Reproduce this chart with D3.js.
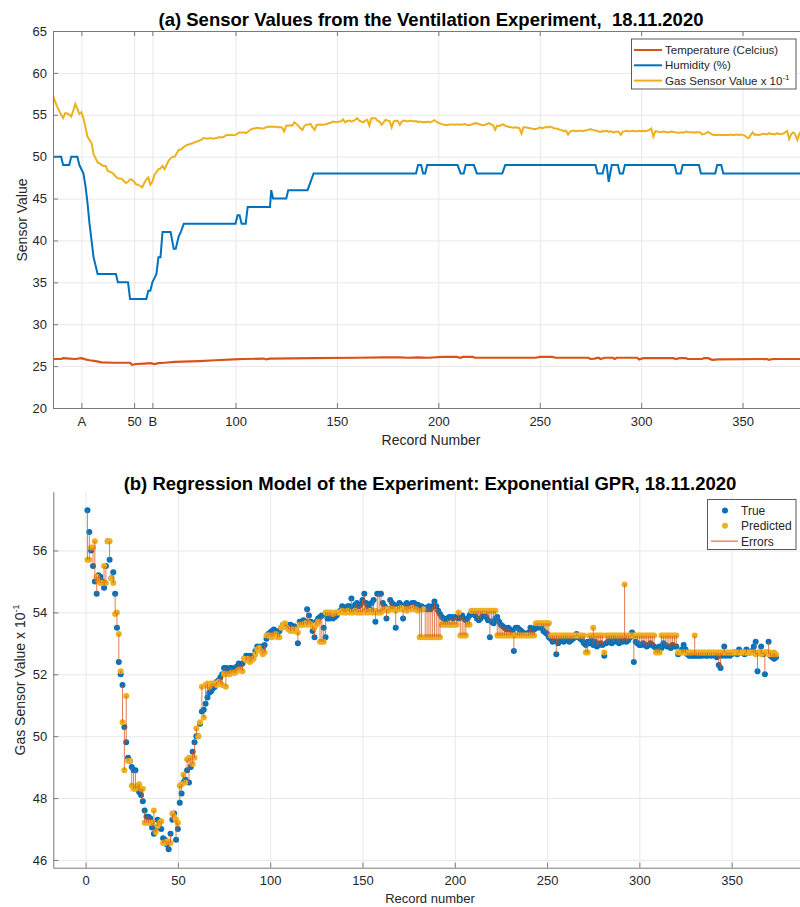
<!DOCTYPE html>
<html>
<head>
<meta charset="utf-8">
<script src="https://cdn.jsdelivr.net/npm/d3@7"></script>
<style>
body { margin: 0; background: #fff; }
svg { display: block; font-family: "Liberation Sans", Arial, sans-serif; }
.axis .tick text { fill: #262626; font-size: 13px; }
.axis path, .axis line { stroke: #7a7a7a; }
.grid line { stroke: #e8e8e8; }
.grid path { display: none; }
</style>
</head>
<body>
<svg width="800" height="907"></svg>
<script>
// gas sensor value x 10^-1, record 1..374 (true measurements)
var gasTrue = [
  57.3, 56.6, 56.0, 55.5, 55.0, 54.6, 55.2, 55.15, 55.0, 54.8,
  55.5, 56.3, 55.7, 55.1, 55.3, 54.6, 53.5, 52.4, 52.0, 51.65,
  50.3, 49.8, 49.3, 49.2, 49.0, 48.9, 48.9, 48.3, 48.2, 48.1,
  47.9, 47.6, 47.4, 47.4, 47.35, 47.05, 46.85, 47.0, 47.3, 47.25,
  47.0, 46.7, 46.65, 46.5, 46.35, 46.85, 47.3, 47.5, 46.65, 47.0,
  47.85, 48.15, 48.5, 48.6, 48.9, 48.5, 49.0, 49.5, 49.8, 50.0,
  50.0, 50.4, 50.8, 50.85, 51.05, 51.25, 51.4, 51.45, 51.55, 51.6,
  51.75, 51.8, 51.9, 52.0, 52.2, 52.2, 52.15, 52.2, 52.2, 52.15,
  52.2, 52.25, 52.35, 52.3, 52.35, 52.5, 52.6, 52.55, 52.6, 52.55,
  52.6, 52.75, 52.9, 52.85, 52.9, 52.8, 52.95, 53.15, 53.3, 53.35,
  53.4, 53.45, 53.4, 53.35, 53.4, 53.5, 53.6, 53.55, 53.6, 53.55,
  53.6, 53.5, 53.55, 53.45, 53.0, 53.7, 53.7, 53.75, 53.7, 54.1,
  53.9, 53.7, 53.4, 53.2, 53.7, 53.8, 53.85, 53.9, 53.5, 53.2,
  53.8, 53.8, 53.85, 53.8, 53.85, 53.9, 54.0, 54.05, 54.2, 54.15,
  54.1, 54.2, 54.2, 54.45, 54.1, 54.25, 54.3, 54.2, 54.25, 54.4,
  54.6, 54.3, 54.2, 54.1, 54.3, 54.4, 53.7, 54.6, 54.6, 54.6,
  54.3, 54.2, 53.8, 54.1, 54.4, 54.3, 54.25, 53.5, 54.2, 54.3,
  54.25, 53.8, 54.2, 54.3, 54.25, 54.2, 54.3, 54.3, 54.2, 54.25,
  54.15, 54.2, 54.1, 54.15, 54.1, 54.2, 54.1, 54.2, 54.35, 54.2,
  54.05, 53.95, 53.85, 53.8, 53.75, 53.8, 53.85, 53.85, 53.8, 53.85,
  53.85, 53.8, 53.85, 53.9, 53.8, 53.75, 53.8, 53.9, 54.0, 53.95,
  53.9, 53.8, 53.75, 53.8, 53.9, 54.0, 53.85, 53.75, 53.2, 53.7,
  53.65, 53.8, 53.85, 53.7, 53.6, 53.55, 53.5, 53.45, 53.5, 53.45,
  53.4, 52.75, 53.5, 53.5, 53.45, 53.4, 53.35, 53.3, 53.3, 53.35,
  53.5, 53.4, 53.45, 53.55, 53.5, 53.6, 53.5, 53.4, 53.35, 53.3,
  53.2, 53.15, 53.05, 53.1, 52.65, 53.0, 53.1, 53.1, 53.05, 53.1,
  53.1, 53.05, 53.1, 53.15, 53.2, 53.3, 53.2, 53.15, 53.1, 53.0,
  52.95, 53.05, 53.0, 53.1, 52.95, 53.05, 52.9, 52.95, 53.0, 52.95,
  52.6, 53.0, 53.05, 53.1, 53.0, 53.05, 53.1, 53.05, 53.0, 53.1,
  53.05, 53.1, 53.05, 53.1, 53.2, 53.35, 52.4, 53.05, 53.0, 52.95,
  52.95, 53.0, 52.95, 52.9, 52.95, 53.0, 52.95, 52.9, 52.85, 52.85,
  52.9, 52.85, 53.0, 52.95, 52.9, 52.9, 52.85, 52.95, 52.9, 52.9,
  52.65, 52.7, 52.8, 52.95, 52.8, 52.65, 52.6, 52.6, 52.6, 52.6,
  52.6, 52.6, 52.6, 52.6, 52.65, 52.6, 52.6, 52.65, 52.6, 52.65,
  52.6, 52.55, 52.3, 52.2, 52.6, 52.9, 52.6, 52.65, 52.6, 52.65,
  52.7, 52.7, 52.65, 52.8, 52.7, 52.7, 52.65, 52.8, 52.7, 52.7,
  52.75, 52.9, 53.05, 52.1, 52.7, 52.9, 52.65, 52.0, 52.7, 53.05,
  52.6, 52.55, 52.5, 52.55
];

// GPR prediction for the same records
var gasPred = [
  55.7, 55.7, 56.1, 56.1, 56.3, 55.15, 55.0, 54.95, 54.95, 55.5,
  54.95, 56.3, 56.3, 55.1, 54.95, 53.95, 54.0, 53.3, 52.1, 50.45,
  48.9, 51.3, 49.2, 49.2, 48.4, 48.3, 48.3, 48.4, 48.45, 48.3,
  48.3, 47.2, 47.2, 47.2, 47.2, 47.2, 47.6, 46.9, 47.1, 47.2,
  47.25, 46.55, 46.55, 46.6, 46.6, 46.55, 47.5, 47.4, 47.3, 47.2,
  48.4, 48.45, 48.75, 48.5, 49.25, 49.3, 49.3, 49.1, 49.3, 50.25,
  50.0, 50.45, 51.6, 50.6, 51.65, 51.7, 51.6, 51.7, 51.7, 51.7,
  51.65, 51.75, 51.7, 51.65, 52.0, 51.6, 52.0, 52.0, 52.05, 52.05,
  52.05, 52.1, 52.15, 52.15, 52.1, 52.5, 52.45, 52.5, 52.4, 52.45,
  52.5, 52.65, 52.8, 52.85, 52.75, 52.65, 52.7, 53.25, 53.25, 53.25,
  53.2, 53.25, 53.3, 53.2, 53.2, 53.5, 53.6, 53.65, 53.5, 53.45,
  53.4, 53.45, 53.4, 53.45, 53.35, 53.6, 53.6, 53.6, 53.65, 53.6,
  53.65, 53.6, 53.55, 53.5, 53.6, 53.7, 53.05, 53.05, 53.05, 54.0,
  54.0, 54.0, 54.0, 53.95, 54.0, 54.0, 54.0, 54.0, 54.05, 54.0,
  54.0, 54.05, 54.0, 54.0, 54.0, 54.05, 54.0, 54.0, 54.0, 54.0,
  54.05, 54.0, 54.0, 54.05, 54.0, 54.0, 54.05, 54.0, 54.0, 54.0,
  54.05, 54.1, 54.1, 54.05, 54.1, 54.1, 54.1, 54.05, 54.1, 54.1,
  54.15, 54.1, 54.1, 54.05, 54.1, 54.1, 54.15, 54.1, 54.1, 54.05,
  53.2, 53.2, 54.1, 53.2, 53.2, 53.2, 53.2, 53.2, 53.2, 53.2,
  53.2, 53.2, 53.6, 53.6, 53.6, 53.6, 53.6, 53.6, 53.6, 53.6,
  53.6, 54.0, 53.25, 53.25, 53.25, 53.25, 53.6, 53.6, 54.05, 54.05,
  54.05, 54.05, 54.05, 54.05, 54.05, 54.05, 54.05, 54.05, 54.05, 54.05,
  54.05, 54.05, 53.25, 53.25, 53.25, 53.25, 53.25, 53.25, 53.25, 53.25,
  53.25, 53.25, 53.25, 53.25, 53.25, 53.25, 53.25, 53.25, 53.25, 53.25,
  53.25, 53.25, 53.25, 53.65, 53.65, 53.65, 53.65, 53.65, 53.65, 53.65,
  53.65, 53.25, 53.25, 53.25, 53.25, 53.25, 53.25, 53.25, 53.25, 53.25,
  53.25, 53.25, 53.25, 53.25, 53.25, 53.25, 53.25, 53.25, 53.25, 53.25,
  52.7, 52.7, 53.25, 53.25, 53.5, 53.25, 53.25, 53.25, 53.25, 53.25,
  52.7, 53.25, 53.25, 53.25, 53.25, 53.25, 53.25, 53.25, 53.25, 53.25,
  53.25, 54.9, 53.25, 53.25, 53.25, 53.25, 53.25, 53.25, 53.25, 53.25,
  53.25, 53.25, 53.25, 53.25, 53.25, 53.25, 53.25, 53.25, 52.7, 52.7,
  52.7, 53.25, 53.25, 53.25, 53.25, 53.25, 53.25, 53.25, 53.25, 53.25,
  52.7, 52.7, 52.7, 52.7, 52.7, 52.7, 52.7, 52.7, 52.7, 53.25,
  52.7, 52.7, 52.7, 52.7, 52.7, 52.7, 52.7, 52.7, 52.7, 52.7,
  52.7, 52.7, 52.7, 52.7, 52.7, 52.7, 52.7, 52.7, 52.7, 52.7,
  52.7, 52.7, 52.7, 52.7, 52.7, 52.7, 52.7, 52.7, 52.7, 52.7,
  52.7, 52.7, 52.65, 52.7, 52.7, 52.65, 52.7, 52.7, 52.7, 52.65,
  52.7, 52.65, 52.7, 52.65
];

// top chart counts records from 10, bottom from 1
var recordOffset = 9;

// humidity (%) vertices [record, value] on the top chart
var humidity = [
  [10, 50], [14, 50], [15, 49], [18, 49], [19, 50], [22, 50], [23, 49], [24, 48.5],
  [25, 48], [26, 46.5], [27, 44.5], [28, 42], [29, 40], [30, 38], [31, 37], [32, 36],
  [41, 36], [42, 35], [47, 35], [48, 33], [56, 33], [57, 34], [58, 34], [59, 35],
  [60, 35.5], [61, 36], [62, 38], [63, 38], [64, 41], [68, 41], [69.5, 39], [70.5, 39],
  [72, 40.5], [73, 41], [74.5, 42], [100, 42], [101, 43], [102, 43], [103, 42], [105, 42],
  [106, 44], [117, 44], [117.6, 46], [118.5, 45], [125, 45], [126, 46], [135.5, 46],
  [137, 47], [138.5, 48], [189, 48], [190, 49], [191.5, 49], [192.5, 48], [193.5, 48],
  [194.5, 49], [209.5, 49], [211, 48], [212.5, 48], [213.5, 49], [217.5, 49], [219, 48],
  [231.5, 48], [233, 49], [277.5, 49], [278.5, 48], [281, 48], [282, 49], [283, 49],
  [284, 47], [285.5, 49], [288.5, 49], [289.5, 48], [291, 48], [292, 49], [316.5, 49],
  [317.5, 48], [319.5, 48], [320.5, 49], [328.5, 49], [329.5, 48], [336.5, 48],
  [337.5, 49], [339.5, 49], [340.5, 48], [384, 48]
];

// temperature (Celcius) vertices [record, value] on the top chart
var temperature = [
  [10, 25.85], [14, 25.85], [15, 25.95], [18, 25.9], [21, 25.85], [24, 25.95], [26, 25.8],
  [28, 25.7], [31, 25.6], [34, 25.45], [40, 25.4], [48, 25.4], [49, 25.15], [51, 25.25],
  [55, 25.3], [58, 25.35], [60, 25.25], [62, 25.35], [65, 25.4], [70, 25.5], [82, 25.6],
  [90, 25.7], [99, 25.8], [104, 25.85], [114, 25.9], [115, 25.8], [117, 25.9], [138, 25.95],
  [160, 26.0], [173, 26.05], [181, 26.05], [185, 26.0], [190, 26.05], [195, 26.0],
  [202, 26.1], [209, 26.1], [211, 26.0], [212, 26.1], [217, 26.1], [218, 26.0], [248, 26.0],
  [250, 26.1], [256, 26.1], [258, 26.0], [274, 26.0], [275, 25.85], [277, 25.9], [279, 26.0],
  [280, 25.85], [282, 26.0], [286, 26.0], [287, 25.85], [288, 26.0], [298, 26.0],
  [299, 25.8], [301, 25.95], [316, 25.95], [317, 25.85], [319, 25.95], [322, 25.95],
  [323, 25.85], [330, 25.85], [331, 25.95], [333, 25.95], [335, 25.75], [338, 25.8],
  [362, 25.85], [363, 25.75], [365, 25.85], [384, 25.85]
];

var topXTicks = [24, 50, 59, 100, 150, 200, 250, 300, 350];
var topXLabels = ["A", "50", "B", "100", "150", "200", "250", "300", "350"];
var topYTicks = [20, 25, 30, 35, 40, 45, 50, 55, 60, 65];
var botXTicks = [0, 50, 100, 150, 200, 250, 300, 350];
var botYTicks = [46, 48, 50, 52, 54, 56];

var topSeries = ["Temperature (Celcius)", "Humidity (%)", "Gas Sensor Value x 10"];
var botSeries = ["True", "Predicted", "Errors"];
var colBlue = "#0072BD", colRed = "#D95319", colYellow = "#EDB120";

var svg = d3.select("svg");

// ---------- (a) sensor values ----------
var xA = d3.scaleLinear().domain([10, 384]).range([53, 811.5]);
var yA = d3.scaleLinear().domain([20, 65]).range([408, 31]);

var gA = svg.append("g");

gA.append("clipPath").attr("id", "clipA")
  .append("rect").attr("x", 53).attr("y", 31).attr("width", 758.5).attr("height", 377);

gA.append("g").attr("class", "grid")
    .attr("transform", "translate(0,408)")
    .call(d3.axisBottom(xA).tickValues(topXTicks).tickSize(-377).tickFormat(""));
gA.append("g").attr("class", "grid")
    .attr("transform", "translate(53,0)")
    .call(d3.axisLeft(yA).tickValues(topYTicks).tickSize(-758.5).tickFormat(""));

var lineA = d3.line()
    .x(function(d) { return xA(d[0]); })
    .y(function(d) { return yA(d[1]); });

var gasTop = gasTrue.map(function(v, i) { return [i + 1 + recordOffset, v]; });

var plotA = gA.append("g").attr("clip-path", "url(#clipA)");
plotA.append("path").datum(temperature)
    .attr("d", lineA).attr("fill", "none").attr("stroke", colRed).attr("stroke-width", 2.2);
plotA.append("path").datum(humidity)
    .attr("d", lineA).attr("fill", "none").attr("stroke", colBlue).attr("stroke-width", 2);
plotA.append("path").datum(gasTop)
    .attr("d", lineA).attr("fill", "none").attr("stroke", colYellow).attr("stroke-width", 2);

gA.append("g").attr("class", "axis")
    .attr("transform", "translate(0,408)")
    .call(d3.axisBottom(xA).tickValues(topXTicks)
      .tickFormat(function(d, i) { return topXLabels[i]; })
      .tickSize(-5).tickSizeOuter(0).tickPadding(9));
gA.append("g").attr("class", "axis")
    .attr("transform", "translate(0,31)")
    .call(d3.axisTop(xA).tickValues(topXTicks).tickFormat("")
      .tickSize(-5).tickSizeOuter(0));
gA.append("g").attr("class", "axis")
    .attr("transform", "translate(53,0)")
    .call(d3.axisLeft(yA).tickValues(topYTicks).tickSize(-5).tickSizeOuter(0).tickPadding(6));

gA.append("text")
    .attr("x", 431).attr("y", 26).attr("text-anchor", "middle")
    .attr("font-size", 18.5).attr("font-weight", "bold").attr("fill", "#000")
    .style("white-space", "pre")
    .text("(a) Sensor Values from the Ventilation Experiment,  18.11.2020");
gA.append("text")
    .attr("x", 431).attr("y", 445).attr("text-anchor", "middle")
    .attr("font-size", 14).attr("fill", "#262626")
    .text("Record Number");
gA.append("text")
    .attr("transform", "translate(27,220) rotate(-90)")
    .attr("text-anchor", "middle")
    .attr("font-size", 14).attr("fill", "#262626")
    .text("Sensor Value");

// legend (a)
var legA = gA.append("g");
legA.append("rect")
    .attr("x", 631.5).attr("y", 39).attr("width", 164.5).attr("height", 50)
    .attr("fill", "#fff").attr("stroke", "#5a5a5a").attr("stroke-width", 1);
var legAColors = [colRed, colBlue, colYellow];
topSeries.forEach(function(name, i) {
  var yy = 50 + i * 15.3;
  legA.append("line")
      .attr("x1", 634).attr("x2", 662).attr("y1", yy).attr("y2", yy)
      .attr("stroke", legAColors[i]).attr("stroke-width", 2);
  var t = legA.append("text")
      .attr("x", 665).attr("y", yy + 4).attr("font-size", 11.5).attr("fill", "#262626")
      .text(name);
  if (i === 2) {
    t.append("tspan").attr("dy", -5).attr("font-size", 8).text("-1");
  }
});

// ---------- (b) regression model ----------
var xB = d3.scaleLinear().domain([-17.5, 390]).range([53.3, 805.5]);
var yB = d3.scaleLinear().domain([45.75, 57.9]).range([867.7, 491.7]);

var gB = svg.append("g");

gB.append("g").attr("class", "grid")
    .attr("transform", "translate(0,867.7)")
    .call(d3.axisBottom(xB).tickValues(botXTicks).tickSize(-376).tickFormat(""));
gB.append("g").attr("class", "grid")
    .attr("transform", "translate(53.3,0)")
    .call(d3.axisLeft(yB).tickValues(botYTicks).tickSize(-752).tickFormat(""));

var recs = gasTrue.map(function(v, i) { return i + 1; });

gB.append("g").selectAll("circle")
    .data(recs).enter().append("circle")
    .attr("cx", function(d) { return xB(d); })
    .attr("cy", function(d) { return yB(gasTrue[d - 1]); })
    .attr("r", 3).attr("fill", colBlue);

gB.append("g").selectAll("circle")
    .data(recs).enter().append("circle")
    .attr("cx", function(d) { return xB(d); })
    .attr("cy", function(d) { return yB(gasPred[d - 1]); })
    .attr("r", 3).attr("fill", colYellow);

gB.append("g").selectAll("line")
    .data(recs).enter().append("line")
    .attr("x1", function(d) { return xB(d); })
    .attr("x2", function(d) { return xB(d); })
    .attr("y1", function(d) { return yB(gasTrue[d - 1]); })
    .attr("y2", function(d) { return yB(gasPred[d - 1]); })
    .attr("stroke", colRed).attr("stroke-opacity", 0.75).attr("stroke-width", 1);

gB.append("g").attr("class", "axis")
    .attr("transform", "translate(0,867.7)")
    .call(d3.axisBottom(xB).tickValues(botXTicks)
      .tickSize(-5).tickSizeOuter(0).tickPadding(8));
gB.append("g").attr("class", "axis")
    .attr("transform", "translate(53.3,0)")
    .call(d3.axisLeft(yB).tickValues(botYTicks).tickSize(-5).tickSizeOuter(0).tickPadding(6));

gB.append("text")
    .attr("x", 430).attr("y", 489.5).attr("text-anchor", "middle")
    .attr("font-size", 18.5).attr("font-weight", "bold").attr("fill", "#000")
    .text("(b) Regression Model of the Experiment: Exponential GPR, 18.11.2020");
gB.append("text")
    .attr("x", 430).attr("y", 903).attr("text-anchor", "middle")
    .attr("font-size", 13).attr("fill", "#262626")
    .text("Record number");
var yLabB = gB.append("text")
    .attr("transform", "translate(25,680) rotate(-90)")
    .attr("text-anchor", "middle")
    .attr("font-size", 14).attr("fill", "#262626")
    .text("Gas Sensor Value x 10");
yLabB.append("tspan").attr("dy", -6).attr("font-size", 9).text("-1");

// legend (b)
var legB = gB.append("g");
legB.append("rect")
    .attr("x", 707.5).attr("y", 499.5).attr("width", 88.5).attr("height", 50)
    .attr("fill", "#fff").attr("stroke", "#5a5a5a").attr("stroke-width", 1);
botSeries.forEach(function(name, i) {
  var yy = 510.5 + i * 15.3;
  if (i < 2) {
    legB.append("circle").attr("cx", 725).attr("cy", yy).attr("r", 3)
        .attr("fill", i === 0 ? colBlue : colYellow);
  } else {
    legB.append("line").attr("x1", 711).attr("x2", 738).attr("y1", yy).attr("y2", yy)
        .attr("stroke", colRed).attr("stroke-width", 1);
  }
  legB.append("text")
      .attr("x", 741).attr("y", yy + 4.5).attr("font-size", 12).attr("fill", "#262626")
      .text(name);
});
</script>
</body>
</html>
